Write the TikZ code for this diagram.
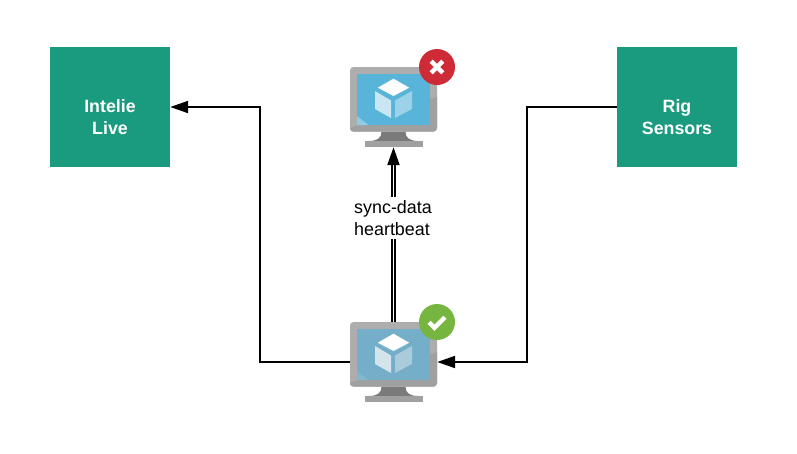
\documentclass[tikz,border=0pt]{standalone}
\usepackage{fontspec}
\setmainfont{Liberation Sans}
\usetikzlibrary{arrows.meta}
\definecolor{boxgreen}{HTML}{1A9A7E}
\definecolor{frameA}{HTML}{ADADAD}
\definecolor{frameB}{HTML}{A0A0A0}
\definecolor{standdark}{HTML}{7A7A7A}
\definecolor{failred}{HTML}{CE2B37}
\definecolor{okgreen}{HTML}{76B53F}
\definecolor{scrA}{HTML}{59B4D9}
\definecolor{glareA}{HTML}{8FCBE5}
\definecolor{leftA}{HTML}{C9E7F3}
\definecolor{rightA}{HTML}{9CD2E8}
\definecolor{scrB}{HTML}{74AEC8}
\definecolor{glareB}{HTML}{82B8CF}
\definecolor{leftB}{HTML}{D3E4EC}
\definecolor{rightB}{HTML}{AACBDA}
\tikzset{
  x=1pt,y=1pt,
  greenbox/.style={fill=boxgreen,minimum width=120pt,minimum height=120pt,inner sep=0pt},
  boxtext/.style={text=white,inner sep=0pt,align=center,font=\fontsize{17.8}{21.5}\selectfont\bfseries},
  hostnode/.style={minimum width=87pt,minimum height=80pt,inner sep=0pt},
  badge/.style={circle,minimum size=36pt,inner sep=0pt},
  link/.style={line width=2pt,draw=black,-{Triangle[length=18pt,width=12pt]}},
  dbl/.style={line width=2.1pt,double=white,double distance=1.2pt,-{Triangle[length=18pt,width=12pt]}},
  lbl/.style={fill=white,inner xsep=0pt,inner ysep=3pt,align=left,font=\fontsize{17.9}{22}\selectfont},
  glyph/.style={draw=white,line width=4.4pt},
}
% #1 node name, #2 centre y (negative), #3 screen, #4 glare, #5 left face, #6 right face
\newcommand{\hostpic}[6]{%
  \node[hostnode] (#1) at (393.5,#2) {};
  \begin{scope}[shift={(393.5,#2)}]
    \fill[standdark] (-12,-24.5) -- (12,-24.5) .. controls (12,-31) and (16,-34) .. (25,-34) -- (-25,-34) .. controls (-16,-34) and (-12,-31) .. (-12,-24.5) -- cycle;
    \fill[frameB] (-29,-34) rectangle (29,-40);
    \fill[frameA,rounded corners=3.5pt] (-43.5,40) rectangle (43.5,-24.7);
    \fill[frameB] (43.5,10) -- (43.5,-21) arc (0:-90:3.5) -- (-40,-24.7) arc (-90:-180:3.5) -- (-43.5,-21) -- cycle;
    \fill[#3] (-36.5,33) rectangle (36.5,-18);
    \fill[#4] (-36.5,-18) -- (-36.5,-9) -- (-25,-18) -- cycle;
    \fill[white] (0,28.3) -- (15.7,19.3) -- (0,11) -- (-15.7,19.3) -- cycle;
    \fill[#5] (-18.5,16) -- (-2.5,6.5) -- (-2.5,-11) -- (-18.5,-2) -- cycle;
    \fill[#6] (18.5,16) -- (1.5,6.5) -- (1.5,-11) -- (18.5,-2) -- cycle;
  \end{scope}
}
\begin{document}
\begin{tikzpicture}
\useasboundingbox (0,0) rectangle (797,-453);
\fill[white] (0,0) rectangle (797,-453);
\node[greenbox] (live) at (110,-107) {};
\node[boxtext] (livetext) at (110,-117) {Intelie\\Live};
\node[greenbox] (rig) at (677,-107) {};
\node[boxtext] (rigtext) at (677,-117) {Rig\\Sensors};
\hostpic{standby}{-107}{scrA}{glareA}{leftA}{rightA}
\hostpic{active}{-362}{scrB}{glareB}{leftB}{rightB}
\node[badge,fill=failred] (fail) at (437,-67) {};
\draw[glyph] (431.2,-61.2) -- (442.8,-72.8) (431.2,-72.8) -- (442.8,-61.2);
\node[badge,fill=okgreen] (ok) at (437,-322) {};
\draw[glyph] (429,-322.3) -- (434.5,-327.8) -- (445,-317.3);
\draw[link] (rig.west) -- (527,-107) -- (527,-362) -- (active.east);
\draw[link] (active.west) -- (260,-362) -- (260,-107) -- (live.east);
\draw[dbl] (active.north) -- (standby.south);
\node[lbl] (sync) at (393,-218) {sync-data\\heartbeat};
\end{tikzpicture}
\end{document}
